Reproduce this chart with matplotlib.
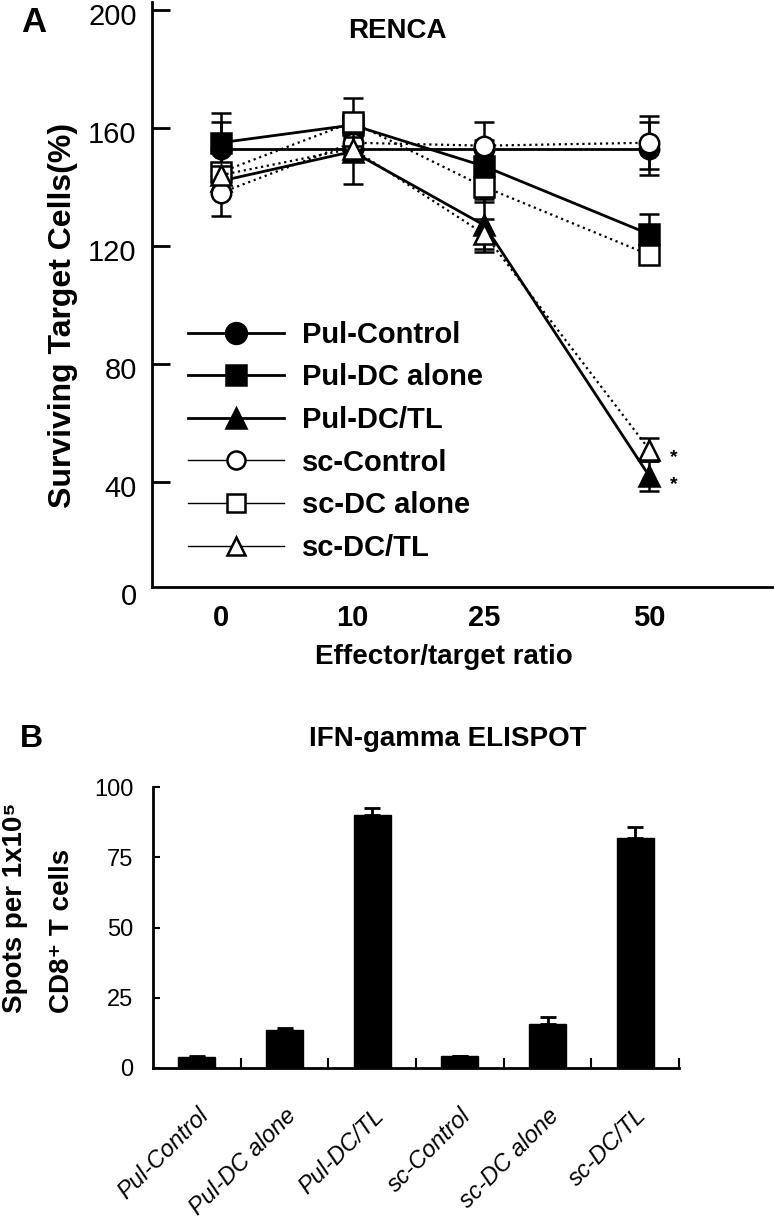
import matplotlib
matplotlib.use('Agg')
import matplotlib.pyplot as plt
from matplotlib.lines import Line2D
from matplotlib.transforms import ScaledTranslation

plt.rcParams['font.family'] = ['Liberation Sans', 'DejaVu Sans']
NARROW = ['Liberation Sans Narrow', 'Liberation Sans', 'DejaVu Sans']

# --- Panel A: cytotoxicity (RENCA) ---
ratios = ['0', '10', '25', '50']
x_pos = [0, 1, 2, 3.25]

pul_control = [153, 153, 153, 153]
pul_control_err = [9, 3, 3, 9]
pul_dc_alone = [155, 161, 147, 124]
pul_dc_alone_err = [10, 4, 3, 7]
pul_dctl = [142, 152, 127, 42]
pul_dctl_err = [3, 11, 9, 5]
sc_control = [138, 155, 154, 155]
sc_control_err = [8, 4, 8, 9]
sc_dc_alone = [145, 162, 140, 117]
sc_dc_alone_err = [3, 8, 5, 2]
sc_dctl = [144, 153, 124, 51]
sc_dctl_err = [3, 4, 5, 4]

# --- Panel B: IFN-gamma ELISPOT ---
groups = ['Pul-Control', 'Pul-DC alone', 'Pul-DC/TL', 'sc-Control', 'sc-DC alone', 'sc-DC/TL']
spots = [3.8, 13.7, 90.0, 4.2, 15.6, 81.8]
spots_err = [0.4, 0.4, 2.5, 0.0, 2.6, 4.0]

W, H = 774, 1227
fig = plt.figure(figsize=(W / 100, H / 100), dpi=100)

def fx(px):
    return px / W

def fy(py):
    return 1 - py / H

ax = fig.add_axes([fx(152), fy(587), fx(772 - 152), (587 - 2) / H])

series = [
    ('Pul-Control', pul_control, pul_control_err, 'o', 'black', '-', 2.0),
    ('Pul-DC alone', pul_dc_alone, pul_dc_alone_err, 's', 'black', '-', 2.0),
    ('Pul-DC/TL', pul_dctl, pul_dctl_err, '^', 'black', '-', 2.0),
    ('sc-Control', sc_control, sc_control_err, 'o', 'white', ':', 1.6),
    ('sc-DC alone', sc_dc_alone, sc_dc_alone_err, 's', 'white', ':', 1.6),
    ('sc-DC/TL', sc_dctl, sc_dctl_err, '^', 'white', ':', 1.6),
]

handles = []
for i, (name, vals, err, mk, fc, ls, lw) in enumerate(series):
    ax.errorbar(x_pos, vals, yerr=err, fmt='none', ecolor='black',
                elinewidth=1.8, capsize=7, capthick=1.8, zorder=2 + i)
    ax.plot(x_pos, vals, linestyle=ls, color='black', linewidth=lw,
            marker=mk, markersize=14, markerfacecolor=fc,
            markeredgecolor='black', markeredgewidth=1.8, zorder=3 + i)
    handles.append(Line2D([0], [0], color='black',
                          linewidth=2.0 if fc == 'black' else 1.0,
                          marker=mk, markersize=15 if fc == 'black' else 13,
                          markerfacecolor=fc, markeredgecolor='black',
                          markeredgewidth=1.8, label=name))

# significance stars
for vals in (sc_dctl, pul_dctl):
    ax.annotate('*', (x_pos[3], vals[3]), xytext=(15, -6), textcoords='offset points',
                fontsize=14, fontweight='bold', va='center')

ax.set_xlim(-0.52, 4.18)
ax.set_ylim(4.4, 202.7)
ax.set_yticks([40, 80, 120, 160, 200])
ax.set_xticks(x_pos)
ax.set_xticklabels(ratios, fontsize=21, fontweight='bold')
ax.tick_params(axis='y', direction='in', length=13, width=2, labelsize=21, pad=11)
ax.tick_params(axis='x', length=0, pad=12)
shift = ScaledTranslation(0, -4 / 100, fig.dpi_scale_trans)
for lab in ax.get_yticklabels():
    lab.set_transform(lab.get_transform() + shift)
for s in ['top', 'right']:
    ax.spines[s].set_visible(False)
for s in ['left', 'bottom']:
    ax.spines[s].set_linewidth(2)

ax.legend(handles=handles, loc='upper left', bbox_to_anchor=(0.058, 0.455),
          frameon=False, prop={'weight': 'bold', 'size': 21},
          handlelength=3.3, handletextpad=0.6, labelspacing=0.5,
          borderpad=0, borderaxespad=0)

fig.text(fx(137), fy(597), '0', fontsize=21, ha='right', va='center')
fig.text(fx(34), fy(22), 'A', fontsize=25, fontweight='bold', ha='center', va='center')
fig.text(fx(397), fy(31), 'RENCA', fontsize=20, fontweight='bold', ha='center', va='center')
fig.text(fx(63), fy(315), 'Surviving Target Cells(%)', fontsize=23, fontweight='bold',
         rotation=90, ha='center', va='center')
fig.text(fx(444), fy(657), 'Effector/target ratio', fontsize=20, fontweight='bold',
         family=NARROW, ha='center', va='center')

# --- Panel B ---
bx = fig.add_axes([fx(153), fy(1068), fx(679 - 153), (1068 - 787) / H])
idx = list(range(len(groups)))
bx.bar(idx, spots, width=0.42, color='black', edgecolor='black',
       yerr=[[0] * len(spots), spots_err], capsize=6,
       error_kw={'elinewidth': 2, 'capthick': 2, 'ecolor': 'black'})
bx.set_xlim(-0.5, 5.5)
bx.set_ylim(0, 100)
bx.set_yticks([0, 25, 50, 75, 100])
bx.set_yticklabels(['0', '25', '50', '75', '100'], family=NARROW, fontsize=17)
bx.tick_params(axis='y', direction='in', length=5, width=1.5, pad=14)
bx.set_xticks(idx)
bx.set_xticklabels(groups, rotation=45, ha='right', rotation_mode='anchor',
                   family=NARROW, style='italic', fontsize=17)
bx.tick_params(axis='x', which='major', length=0, pad=26)
bx.set_xticks([i + 0.5 for i in idx], minor=True)
bx.tick_params(axis='x', which='minor', direction='in', length=7, width=1.5)
for s in ['top', 'right']:
    bx.spines[s].set_visible(False)
for s in ['left', 'bottom']:
    bx.spines[s].set_linewidth(2)

fig.text(fx(31), fy(739), 'B', fontsize=23, fontweight='bold', ha='center', va='center')
fig.text(fx(448), fy(739), 'IFN-gamma ELISPOT', fontsize=20, fontweight='bold',
         family=NARROW, ha='center', va='center')
fig.text(fx(15), fy(1013), 'Spots per 1x10\u2075', fontsize=20, fontweight='bold',
         rotation=90, ha='center', va='bottom')
fig.text(fx(62), fy(1013), 'CD8\u207a T cells', fontsize=20, fontweight='bold',
         rotation=90, ha='center', va='bottom')

fig.savefig('out.png', dpi=100)
